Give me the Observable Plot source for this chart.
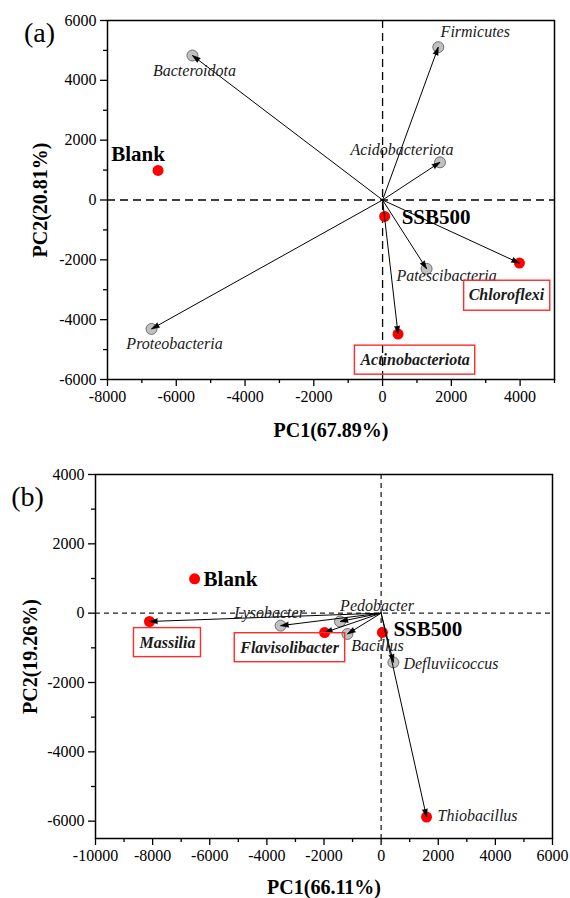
<!DOCTYPE html>
<html><head><meta charset="utf-8">
<script src="https://cdn.jsdelivr.net/npm/d3@7"></script>
<script src="https://cdn.jsdelivr.net/npm/@observablehq/plot@0.6"></script>
<style>
  html,body{margin:0;padding:0;background:#fff;}
  #chart svg{display:block;}
</style>
</head><body><div id="chart"></div>
<script>
// ---------- Panel (a) data ----------
const phylaA = ["Bacteroidota","Firmicutes","Acidobacteriota","Proteobacteria","Patescibacteria","Chloroflexi","Actinobacteriota"];
const phylaA_PC1 = [-5530, 1620, 1670, -6720, 1280, 3980, 450];
const phylaA_PC2 = [4830, 5110, 1260, -4310, -2300, -2110, -4480];
const phylaA_red = [false, false, false, false, false, true, true];
const phylaA_boxed = [false, false, false, false, false, true, true];
const samplesA = ["Blank", "SSB500"];
const samplesA_PC1 = [-6530, 60];
const samplesA_PC2 = [990, -550];
const xTicksA = [-8000, -6000, -4000, -2000, 0, 2000, 4000];
const xMinorA = [-7000, -5000, -3000, -1000, 1000, 3000, 5000];
const yTicksA = [-6000, -4000, -2000, 0, 2000, 4000, 6000];
const yMinorA = [-5000, -3000, -1000, 1000, 3000, 5000];

// ---------- Panel (b) data ----------
const generaB = ["Massilia","Lysobacter","Pedobacter","Flavisolibacter","Bacillus","Defluviicoccus","Thiobacillus"];
const generaB_PC1 = [-8110, -3520, -1440, -1980, -1180, 430, 1590];
const generaB_PC2 = [-240, -360, -240, -560, -600, -1420, -5880];
const generaB_red = [true, false, false, true, false, false, true];
const generaB_boxed = [true, false, false, true, false, false, false];
const samplesB = ["Blank", "SSB500"];
const samplesB_PC1 = [-6530, 45];
const samplesB_PC2 = [990, -557];
const xTicksB = [-10000, -8000, -6000, -4000, -2000, 0, 2000, 4000, 6000];
const xMinorB = [-9000, -7000, -5000, -3000, -1000, 1000, 3000, 5000];
const yTicksB = [-6000, -4000, -2000, 0, 2000, 4000];
const yMinorB = [-5000, -3000, -1000, 1000, 3000];

// ---------- label placement (pixel offsets) ----------
const layoutA = [[2,15,"middle"],[37,-15,"middle"],[-38,-12,"middle"],[23,15,"middle"],[20,7,"middle"],[-13,32,"middle"],[17,26,"middle"]];
const sLayoutA = [[-20,-16,"middle"],[17,1,"start"]];
const layoutB = [[18,21,"middle"],[-11,-13,"middle"],[37,-16,"middle"],[-35,15,"middle"],[30,12,"middle"],[10,1,"start"],[11,-1,"start"]];
const sLayoutB = [[9,0,"start"],[11,-3,"start"]];

const FONT = "'Liberation Serif', 'Times New Roman', serif";

function panel(p) {
  const kx = (p.width - p.ml - p.mr) / (p.xDomain[1] - p.xDomain[0]);
  const ky = (p.height - p.mt - p.mb) / (p.yDomain[1] - p.yDomain[0]);
  const vars = p.names.map((name, i) => ({name, x: p.vx[i], y: p.vy[i], red: p.red[i], boxed: p.boxed[i], lab: p.layout[i]}));
  const samples = p.sNames.map((name, i) => ({name, x: p.sx[i], y: p.sy[i], lab: p.sLayout[i]}));
  const angle = d => Math.atan2(d.x * kx, d.y * ky) * 180 / Math.PI;
  const fmt = d => String(d);
  return Plot.plot({
    width: p.width, height: p.height,
    marginLeft: p.ml, marginRight: p.mr, marginTop: p.mt, marginBottom: p.mb,
    style: {fontFamily: FONT, fontSize: "16px", color: "black", background: "white", overflow: "visible"},
    x: {domain: p.xDomain},
    y: {domain: p.yDomain},
    marks: [
      Plot.ruleY([0], {stroke: p.dashColor, strokeDasharray: p.dash, strokeWidth: 1.3}),
      Plot.ruleX([0], {stroke: p.dashColor, strokeDasharray: p.dash, strokeWidth: 1.3}),
      Plot.dot(vars.filter(d => !d.red), {x: "x", y: "y", r: 5.5, fill: "#c0c0c0", stroke: "#555", strokeWidth: 0.8}),
      Plot.dot(vars.filter(d => d.red), {x: "x", y: "y", r: 5.5, fill: "#ff0000"}),
      Plot.dot(samples, {x: "x", y: "y", r: 5.5, fill: "#ff0000"}),
      Plot.link(vars, {x1: d => 0, y1: d => 0, x2: "x", y2: "y", stroke: "black", strokeWidth: 1}),
      Plot.vector(vars, {x: "x", y: "y", rotate: angle, length: 8, r: 2.6, anchor: "end", shape: "spike", fill: "black", stroke: "black", strokeWidth: 0.5}),
      ...vars.map(d => Plot.text([d], {
        x: "x", y: "y", text: "name", dx: d.lab[0], dy: d.lab[1], textAnchor: d.lab[2], lineAnchor: "middle",
        fontStyle: "italic", fontWeight: d.boxed ? "bold" : "normal", fontSize: 16, fill: "#1a1a1a",
        ariaLabel: d.boxed ? "boxed" : "label"
      })),
      ...samples.map(d => Plot.text([d], {
        x: "x", y: "y", text: "name", dx: d.lab[0], dy: d.lab[1], textAnchor: d.lab[2], lineAnchor: "middle",
        fontWeight: "bold", fontSize: 21, fill: "black"
      })),
      Plot.frame({stroke: "black", strokeWidth: 1.5}),
      Plot.axisX(p.xTicks, {tickSize: 7, tickPadding: 4, tickFormat: fmt, fontSize: 16, label: null, strokeWidth: 1.3}),
      Plot.axisX(p.xMinor, {tickSize: 4, tickFormat: () => "", label: null, strokeWidth: 1.3}),
      Plot.axisY(p.yTicks, {tickSize: 7, tickPadding: 4, tickFormat: fmt, fontSize: 16, label: null, strokeWidth: 1.3}),
      Plot.axisY(p.yMinor, {tickSize: 4, tickFormat: () => "", label: null, strokeWidth: 1.3}),
      Plot.text([p.xLabel], {text: d => d, frameAnchor: "bottom", dy: p.xLabelDy, textAnchor: "middle", lineAnchor: "middle", fontWeight: "bold", fontSize: 20}),
      Plot.text([p.yLabel], {text: d => d, frameAnchor: "left", dx: p.yLabelDx, rotate: -90, textAnchor: "middle", lineAnchor: "middle", fontWeight: "bold", fontSize: 20}),
      Plot.text([p.tag], {text: d => d, frameAnchor: "top-left", dx: p.tagDx, dy: p.tagDy, textAnchor: "middle", lineAnchor: "middle", fontSize: 28})
    ]
  });
}

const chart = document.getElementById("chart");
const svgA = panel({
  width: 570, height: 445, ml: 107, mr: 16, mt: 20, mb: 66,
  xDomain: [-8000, 5000], yDomain: [-6000, 6000],
  names: phylaA, vx: phylaA_PC1, vy: phylaA_PC2, red: phylaA_red, boxed: phylaA_boxed, layout: layoutA,
  sNames: samplesA, sx: samplesA_PC1, sy: samplesA_PC2, sLayout: sLayoutA,
  xTicks: xTicksA, xMinor: xMinorA, yTicks: yTicksA, yMinor: yMinorA,
  dash: "8,5", dashColor: "#000",
  xLabel: "PC1(67.89%)", yLabel: "PC2(20.81%)", xLabelDy: 51, yLabelDx: -67,
  tag: "(a)", tagDx: -68, tagDy: 13
});
const svgB = panel({
  width: 570, height: 453, ml: 95, mr: 18, mt: 29, mb: 60,
  xDomain: [-10000, 6000], yDomain: [-6500, 4000],
  names: generaB, vx: generaB_PC1, vy: generaB_PC2, red: generaB_red, boxed: generaB_boxed, layout: layoutB,
  sNames: samplesB, sx: samplesB_PC1, sy: samplesB_PC2, sLayout: sLayoutB,
  xTicks: xTicksB, xMinor: xMinorB, yTicks: yTicksB, yMinor: yMinorB,
  dash: "5,4", dashColor: "#222",
  xLabel: "PC1(66.11%)", yLabel: "PC2(19.26%)", xLabelDy: 49, yLabelDx: -65,
  tag: "(b)", tagDx: -68, tagDy: 23
});
chart.appendChild(svgA);
chart.appendChild(svgB);

// red boxes around highlighted labels, sized from the rendered text
function boxLabels(svg) {
  const found = new Set();
  svg.querySelectorAll('[aria-label="boxed"] text').forEach(t => found.add(t));
  svg.querySelectorAll('text').forEach(t => {
    const cs = getComputedStyle(t);
    const bold = cs.fontWeight === "bold" || +cs.fontWeight >= 600;
    if (bold && cs.fontStyle === "italic") found.add(t);
  });
  found.forEach(t => {
    const bb = t.getBBox();
    const padX = 5, padY = 6;
    const rect = document.createElementNS("http://www.w3.org/2000/svg", "rect");
    rect.setAttribute("x", bb.x - padX);
    rect.setAttribute("y", bb.y - padY);
    rect.setAttribute("width", bb.width + 2 * padX);
    rect.setAttribute("height", bb.height + 2 * padY);
    rect.setAttribute("fill", "none");
    rect.setAttribute("stroke", "#ff2a2a");
    rect.setAttribute("stroke-width", "1.4");
    const tr = t.getAttribute("transform");
    if (tr) rect.setAttribute("transform", tr);
    t.parentNode.insertBefore(rect, t);
  });
}
boxLabels(svgA);
boxLabels(svgB);
</script></body></html>
